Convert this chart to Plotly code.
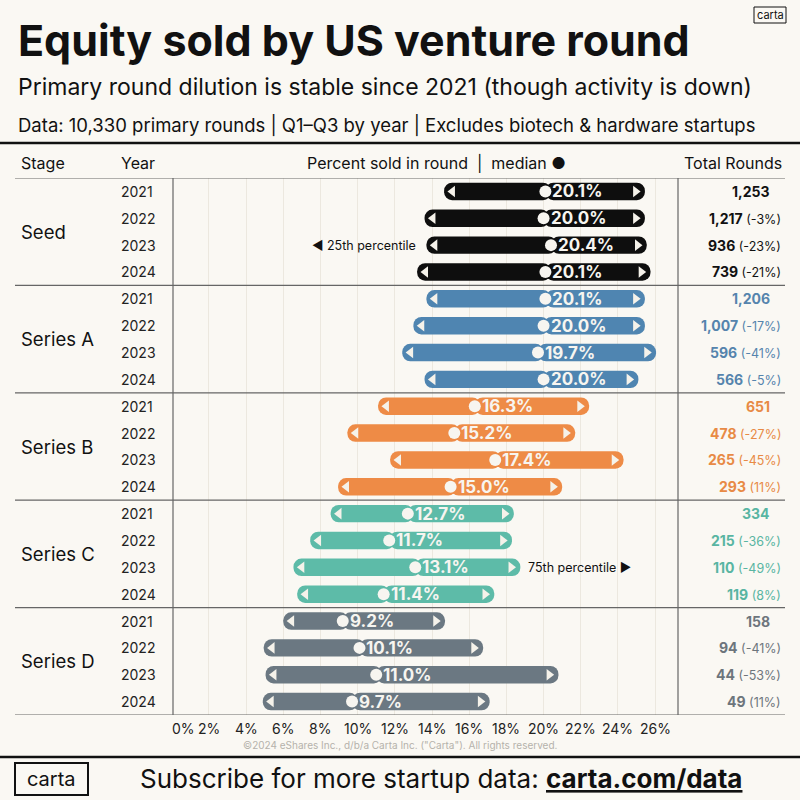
import plotly.graph_objects as go

# data
stages = ["Seed", "Series A", "Series B", "Series C", "Series D"]
years = ["2021", "2022", "2023", "2024"]
stage_colors = ["#0e0e0e", "#4f85b1", "#ee8b46", "#5dbba8", "#6b7882"]
text_colors = ["#111111", "#5584ad", "#e88a45", "#58b5a2", "#6d757c"]

median = [20.1, 20.0, 20.4, 20.1,
          20.1, 20.0, 19.7, 20.0,
          16.3, 15.2, 17.4, 15.0,
          12.7, 11.7, 13.1, 11.4,
          9.2, 10.1, 11.0, 9.7]
p25 = [14.65, 13.6, 13.7, 13.2,
       13.7, 13.0, 12.4, 13.6,
       11.1, 9.45, 11.75, 8.95,
       8.55, 7.45, 6.55, 6.75,
       6.0, 4.95, 5.05, 4.9]
p75 = [25.45, 25.45, 25.55, 25.75,
       25.45, 25.45, 26.05, 25.1,
       22.45, 21.7, 24.3, 21.0,
       18.4, 18.3, 18.75, 17.35,
       14.7, 16.75, 20.8, 17.1]
total_rounds = [1253, 1217, 936, 739,
                1206, 1007, 596, 566,
                651, 478, 265, 293,
                334, 215, 110, 119,
                158, 94, 44, 49]
yoy_change = ["", "-3%", "-23%", "-21%",
              "", "-17%", "-41%", "-5%",
              "", "-27%", "-45%", "11%",
              "", "-36%", "-49%", "8%",
              "", "-41%", "-53%", "11%"]
tick_vals = [0, 2, 4, 6, 8, 10, 12, 14, 16, 18, 20, 22, 24, 26]
tick_labels = [f"{t}%" for t in tick_vals]

FONT = "Inter"
BG = "#faf8f3"


def px(x):
    return x / 800


def py(y):
    return 1 - y / 800


rows = list(range(len(median)))
row_colors = [stage_colors[i // 4] for i in rows]

fig = go.Figure()
# left half (p25 -> median, overlapping a bit so no seam) and right half (median -> p75),
# each rounded at its outer tip
fig.add_trace(go.Bar(y=rows, base=[m + 0.3 for m in median],
                     x=[lo - (m + 0.3) for lo, m in zip(p25, median)],
                     orientation="h", width=0.65,
                     marker=dict(color=row_colors, cornerradius=9, line_width=0),
                     hoverinfo="skip"))
fig.add_trace(go.Bar(y=rows, base=median, x=[hi - m for hi, m in zip(p75, median)],
                     orientation="h", width=0.65,
                     marker=dict(color=row_colors, cornerradius=9, line_width=0),
                     hoverinfo="skip"))
fig.add_trace(go.Scatter(x=[lo + 0.45 for lo in p25], y=rows, mode="markers",
                         marker=dict(symbol="triangle-left", size=10, color="#f5f2ea"),
                         hoverinfo="skip"))
fig.add_trace(go.Scatter(x=[hi - 0.5 for hi in p75], y=rows, mode="markers",
                         marker=dict(symbol="triangle-right", size=10, color="#f5f2ea"),
                         hoverinfo="skip"))
fig.add_trace(go.Scatter(x=median, y=rows, mode="markers",
                         marker=dict(symbol="circle", size=12, color="#f7f5f0"),
                         hoverinfo="skip"))

shapes = []
# thick rules
for y in [143, 757]:
    shapes.append(dict(type="line", xref="paper", yref="paper", x0=0, x1=1, y0=py(y), y1=py(y),
                       line=dict(color="#111111", width=2.5)))
# row group rules
for yv in [-0.5, 3.5, 7.5, 11.5, 15.5, 19.5]:
    shapes.append(dict(type="line", xref="paper", yref="y", x0=px(15), x1=px(785), y0=yv, y1=yv,
                       line=dict(color="#666666", width=1.2)))
for xv in [173, 678]:
    shapes.append(dict(type="line", xref="paper", yref="y", x0=px(xv), x1=px(xv), y0=-0.5, y1=19.5,
                       line=dict(color="#666666", width=1.2)))
# logo boxes
shapes.append(dict(type="rect", xref="paper", yref="paper", x0=px(754), x1=px(786), y0=py(23), y1=py(7),
                   line=dict(color="#111111", width=1)))
shapes.append(dict(type="rect", xref="paper", yref="paper", x0=px(15), x1=px(88), y0=py(795), y1=py(763),
                   line=dict(color="#111111", width=2)))

ann = []


def txt(x, y, s, size, color="#111111", anchor="left", yref="paper", **kw):
    ann.append(dict(x=x, y=y, xref="paper", yref=yref, text=s, showarrow=False, xanchor=anchor,
                    yanchor="middle", font=dict(family=FONT, size=size, color=color), **kw))


txt(px(16), py(40), "<b>Equity sold by US venture round</b>", 43)
txt(px(16), py(87), "Primary round dilution is stable since 2021 (though activity is down)", 23)
txt(px(16), py(126), "Data: 10,330 primary rounds | Q1–Q3 by year | Excludes biotech &amp; hardware startups", 18.5)
txt(px(770), py(15), "carta", 11, anchor="center")

txt(px(19), py(163), "Stage", 16)
txt(px(119), py(163), "Year", 16)
txt(px(436), py(163), "Percent sold in round  |  median ●", 16, anchor="center")
txt(px(784), py(163), "Total Rounds", 16, anchor="right")

for g, stage in enumerate(stages):
    txt(px(19), g * 4 + 1.5, stage, 18.5, yref="y")
for i in rows:
    txt(px(119), i, years[i % 4], 14, color="#222222", yref="y")
    c = text_colors[i // 4]
    if yoy_change[i]:
        s = f"<b>{total_rounds[i]:,}</b><span style='font-size:12.5px'> ({yoy_change[i]})</span>"
        txt(px(783), i, s, 14, color=c, anchor="right", yref="y")
    else:
        txt(px(772), i, f"<b>{total_rounds[i]:,}</b>", 14, color=c, anchor="right", yref="y")

# median labels next to the dot
for i in rows:
    ann.append(dict(x=median[i], y=i, xref="x", yref="y", text=f"<b>{median[i]:.1f}%</b>",
                    showarrow=False, xanchor="left", yanchor="middle", xshift=5,
                    font=dict(family=FONT, size=17, color="#f7f5f0")))

# percentile call-outs
ann.append(dict(x=p25[2], y=2, xref="x", yref="y", text="◀ 25th percentile", showarrow=False,
                xanchor="right", xshift=-8, font=dict(family=FONT, size=12.5, color="#111111")))
ann.append(dict(x=p75[14], y=14, xref="x", yref="y", text="75th percentile ▶", showarrow=False,
                xanchor="left", xshift=6, font=dict(family=FONT, size=12.5, color="#111111")))

# x tick labels
for v, lab in zip(tick_vals, tick_labels):
    ann.append(dict(x=v, y=py(728), xref="x", yref="paper", text=lab, showarrow=False,
                    xanchor="center", yanchor="middle", xshift=12 if v == 0 else 0,
                    font=dict(family=FONT, size=14, color="#222222")))

txt(px(400), py(745), "©2024 eShares Inc., d/b/a Carta Inc. (\"Carta\"). All rights reserved.", 10,
    color="#b5b2ab", anchor="center")
txt(px(51), py(779), "carta", 20, anchor="center")
txt(px(138), py(778), "Subscribe for more startup data: <b><u>carta.com/data</u></b>", 26)

fig.update_layout(
    width=800, height=800,
    margin=dict(l=0, r=0, t=0, b=0),
    paper_bgcolor=BG, plot_bgcolor=BG,
    barmode="overlay", showlegend=False,
    shapes=shapes, annotations=ann,
    xaxis=dict(domain=[px(171.5), px(678)], range=[-0.01, 27.23], showgrid=True, dtick=2, tick0=0,
               gridcolor="#ece8df", gridwidth=1, zeroline=False, showticklabels=False, fixedrange=True),
    yaxis=dict(domain=[py(715), py(178)], range=[19.5, -0.5], showgrid=False, zeroline=False,
               showticklabels=False, fixedrange=True),
)

fig.write_html("out.html", config={"displayModeBar": False},
               post_script="document.body.style.margin='0';document.body.style.overflow='hidden';")
